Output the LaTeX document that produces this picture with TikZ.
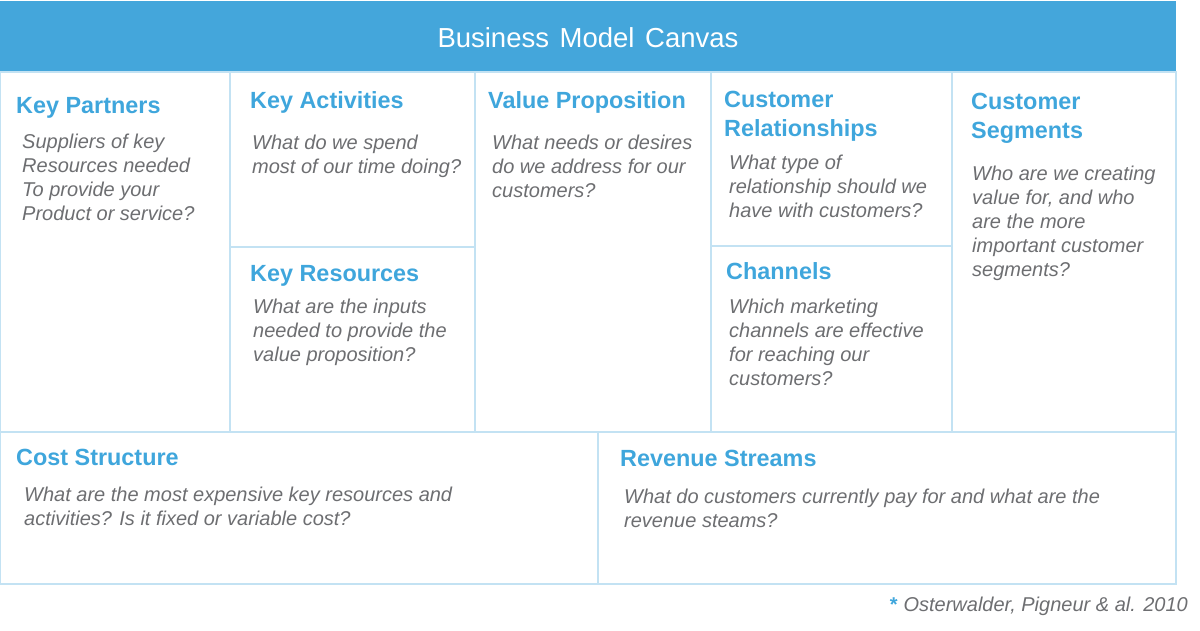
\documentclass[tikz,border=0pt]{standalone}
\usepackage{fontspec}
\setmainfont{Liberation Sans}
\definecolor{hdrblue}{HTML}{44A6DB}
\definecolor{headblue}{HTML}{3FA6DC}
\definecolor{bodygray}{HTML}{6D6E71}
\definecolor{gridline}{HTML}{C3E2F3}
\tikzset{
  gridln/.style={draw=gridline, line width=1.2pt},
  blockhead/.style={anchor=base west, inner sep=0pt, text=headblue,
    font=\fontsize{23.4}{29}\selectfont\bfseries},
  blockbody/.style={anchor=base west, inner sep=0pt, text=bodygray,
    font=\fontsize{20}{24}\selectfont\itshape},
}
\newcommand{\pbx}[2]{\parbox[t]{#1pt}{\raggedright #2}}
\begin{document}
\begin{tikzpicture}[x=1pt,y=-1pt]
\useasboundingbox (0,0) rectangle (1200,630);
% header
\fill[hdrblue] (0,1) rectangle (1176,72);
\node[anchor=base, text=white, inner sep=0pt, font=\fontsize{27.5}{32}\selectfont] (title) at (588,47) {Business\kern3pt{} Model\kern3pt{} Canvas};
% grid
\draw[gridln] (0,72) rectangle (1176,584);
\draw[gridln] (0,432) -- (1176,432);
\draw[gridln] (230,72) -- (230,432);
\draw[gridln] (475,72) -- (475,432);
\draw[gridln] (711,72) -- (711,432);
\draw[gridln] (952,72) -- (952,432);
\draw[gridln] (230,247) -- (475,247);
\draw[gridln] (711,246) -- (952,246);
\draw[gridln] (598,432) -- (598,584);
% Key Partners
\node[blockhead] (kph) at (16,113) {Key Partners};
\node[blockbody] (kpb) at (22,148) {\pbx{205}{Suppliers of key\\Resources needed\\To provide your\\Product or service?}};
% Key Activities
\node[blockhead] (kah) at (250,108) {Key Activities};
\node[blockbody] (kab) at (252,149) {\pbx{220}{What do we spend\\most of our time doing?}};
% Value Proposition
\node[blockhead] (vph) at (488,108) {Value Proposition};
\node[blockbody] (vpb) at (492,149) {\pbx{220}{What needs or desires\\do we address for our\\customers?}};
% Customer Relationships
\node[blockhead] (crh) at (724,107) {\pbx{220}{Customer\\Relationships}};
\node[blockbody] (crb) at (729,169) {\pbx{220}{What type of\\relationship should we\\have with customers?}};
% Customer Segments
\node[blockhead] (csh) at (971,109) {\pbx{200}{Customer\\Segments}};
\node[blockbody] (csb) at (972,180) {\pbx{200}{Who are we creating\\value for, and who\\are the more\\important customer\\segments?}};
% Key Resources
\node[blockhead] (krh) at (250,281) {Key Resources};
\node[blockbody] (krb) at (253,313) {\pbx{220}{What are the inputs\\needed to provide the\\value proposition?}};
% Channels
\node[blockhead] (chh) at (726,279) {Channels};
\node[blockbody] (chb) at (729,313) {\pbx{220}{Which marketing\\channels are effective\\for reaching our\\customers?}};
% Cost Structure
\node[blockhead] (cst) at (16,465) {Cost Structure};
\node[blockbody] (csbd) at (24,501) {\pbx{560}{What are the most expensive key resources and\\activities? Is it fixed or variable cost?}};
% Revenue Streams
\node[blockhead] (rsh) at (620,466) {Revenue Streams};
\node[blockbody] (rsb) at (624,503) {\pbx{560}{What do customers currently pay for and what are the\\revenue steams?}};
% footnote
\node[anchor=base east, inner sep=0pt, text=bodygray, font=\fontsize{20}{24}\selectfont\itshape] (foot) at (1188,611) {\textcolor{headblue}{\upshape\bfseries *}\kern6pt Osterwalder, Pigneur \& al. 2010};
\end{tikzpicture}
\end{document}
